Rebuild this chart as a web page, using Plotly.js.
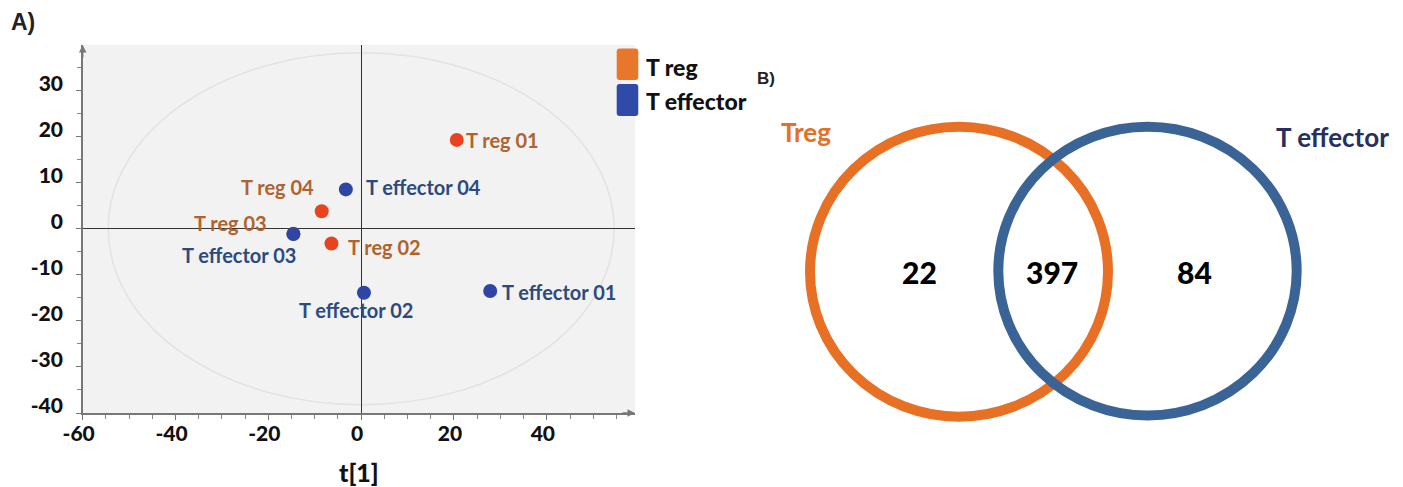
<!DOCTYPE html>
<html>
<head>
<meta charset="utf-8">
<script src="https://cdn.plot.ly/plotly-3.0.1.min.js"></script>
<style>
  html, body { margin: 0; padding: 0; background: #ffffff; }
  #chart { width: 1403px; height: 487px; }
</style>
</head>
<body>
<div id="chart"></div>
<script>
// ---------- Data ----------
// Panel A: score plot, t[1] vs t[2]
const tregNames = ['T reg 01', 'T reg 02', 'T reg 03', 'T reg 04'];
const tregT1 = [20.6, -6.4, -14.6, -8.5];
const tregT2 = [19.3, -3.2, -1.1, 3.8];

const teffNames = ['T effector 01', 'T effector 02', 'T effector 03', 'T effector 04'];
const teffT1 = [27.8, 0.6, -14.6, -3.3];
const teffT2 = [-13.5, -13.9, -1.15, 8.55];

// Hotelling ellipse half-axes (t[1], t[2])
const ellipseT1 = [-54.5, 54.5];
const ellipseT2 = [-38.2, 38.2];

const xRange = [-60, 59];
const yRange = [-40, 39.9];
const xTickVals = [-60, -40, -20, 0, 20, 40];
const xTickText = ['-60', '-40', '-20', '0', '20', '40'];
const yTickVals = [-40, -30, -20, -10, 0, 10, 20, 30];
const yTickText = ['-40', '-30', '-20', '-10', '0', '10', '20', '30'];

// Panel B: Venn counts
const vennSets = ['Treg', 'T effector'];
const vennCounts = [22, 397, 84];   // Treg only, shared, T effector only

// ---------- Styling / layout helpers ----------
const W = 1403, H = 487;
const px = x => x / W;
const py = y => 1 - y / H;
const FONT = 'Lato, "Open Sans", sans-serif';

const colTregDot = '#e8421f';
const colTeffDot = '#2e45a6';
const colTregTxt = '#b0622f';
const colTeffTxt = '#2c4a7e';

// label placement relative to each point: [xanchor, xshift, yshift]
const tregLabelPos = [['left', 8, 0], ['left', 16, -3], ['right', -25, 11], ['right', -7, 24]];
const teffLabelPos = [['left', 11, -1], ['center', -8, -17], ['right', 4, -21], ['left', 19, 2]];

const traces = [
  {
    type: 'scatter', mode: 'markers', name: 'T reg',
    x: tregT1, y: tregT2, text: tregNames,
    marker: { color: colTregDot, size: 14 },
    showlegend: false, cliponaxis: false, hoverinfo: 'text'
  },
  {
    type: 'scatter', mode: 'markers', name: 'T effector',
    x: teffT1, y: teffT2, text: teffNames,
    marker: { color: colTeffDot, size: 14 },
    showlegend: false, cliponaxis: false, hoverinfo: 'text'
  }
];

const annotations = [];
function addPointLabels(names, xs, ys, pos, color) {
  names.forEach((n, i) => {
    annotations.push({
      x: xs[i], y: ys[i], xref: 'x', yref: 'y', text: n, showarrow: false,
      xanchor: pos[i][0], yanchor: 'middle', xshift: pos[i][1], yshift: pos[i][2],
      font: { family: FONT, size: 20, color: color, weight: 'bold' }, borderpad: 0
    });
  });
}
addPointLabels(tregNames, tregT1, tregT2, tregLabelPos, colTregTxt);
addPointLabels(teffNames, teffT1, teffT2, teffLabelPos, colTeffTxt);

// axis arrows
annotations.push({ x: xRange[0], y: yRange[1], xref: 'x', yref: 'y', text: '', showarrow: true,
  ax: 0, ay: 14, arrowhead: 2, arrowsize: 1, arrowwidth: 1.5, arrowcolor: '#777' });
annotations.push({ x: xRange[1], y: yRange[0], xref: 'x', yref: 'y', text: '', showarrow: true,
  ax: -14, ay: 0, arrowhead: 2, arrowsize: 1, arrowwidth: 1.5, arrowcolor: '#777' });

// custom legend texts
annotations.push({ xref: 'paper', yref: 'paper', x: px(644), y: py(67), xanchor: 'left', yanchor: 'middle',
  text: 'T reg', showarrow: false, font: { family: FONT, size: 23, color: '#111', weight: 900 } });
annotations.push({ xref: 'paper', yref: 'paper', x: px(644), y: py(101), xanchor: 'left', yanchor: 'middle',
  text: 'T effector', showarrow: false, font: { family: FONT, size: 23, color: '#111', weight: 900 } });

// panel letters
annotations.push({ xref: 'paper', yref: 'paper', x: px(22.5), y: py(22.5), xanchor: 'center', yanchor: 'middle',
  text: 'A)', showarrow: false, font: { family: '"Liberation Sans", Arial, sans-serif', size: 23, color: '#222', weight: 'bold' } });
annotations.push({ xref: 'paper', yref: 'paper', x: px(766), y: py(78), xanchor: 'center', yanchor: 'middle',
  text: 'B)', showarrow: false, font: { family: '"Liberation Sans", Arial, sans-serif', size: 17, color: '#222', weight: 'bold' } });

// Venn labels and counts
const vennCountPos = [[919.5, 271.5], [1052, 271.5], [1194, 271.5]];
vennCounts.forEach((c, i) => {
  annotations.push({ xref: 'paper', yref: 'paper', x: px(vennCountPos[i][0]), y: py(vennCountPos[i][1]),
    xanchor: 'center', yanchor: 'middle', text: String(c), showarrow: false,
    font: { family: FONT, size: 30, color: '#000', weight: 900 } });
});
const vennLabelPos = [[805.5, 132], [1332, 137]];
const vennLabelCol = ['#e46f26', '#262f5f'];
vennSets.forEach((s, i) => {
  annotations.push({ xref: 'paper', yref: 'paper', x: px(vennLabelPos[i][0]), y: py(vennLabelPos[i][1]),
    xanchor: 'center', yanchor: 'middle', text: s, showarrow: false,
    font: { family: FONT, size: 26, color: vennLabelCol[i], weight: 'bold' } });
});

// rounded rectangle (pixel box -> paper path)
function roundRect(x0, y0, x1, y1, r) {
  const X = v => px(v).toFixed(5), Y = v => py(v).toFixed(5);
  return `M${X(x0 + r)},${Y(y0)} L${X(x1 - r)},${Y(y0)} Q${X(x1)},${Y(y0)} ${X(x1)},${Y(y0 + r)} ` +
         `L${X(x1)},${Y(y1 - r)} Q${X(x1)},${Y(y1)} ${X(x1 - r)},${Y(y1)} ` +
         `L${X(x0 + r)},${Y(y1)} Q${X(x0)},${Y(y1)} ${X(x0)},${Y(y1 - r)} ` +
         `L${X(x0)},${Y(y0 + r)} Q${X(x0)},${Y(y0)} ${X(x0 + r)},${Y(y0)} Z`;
}

const shapes = [
  // Hotelling T2 ellipse
  { type: 'circle', xref: 'x', yref: 'y', layer: 'below',
    x0: ellipseT1[0], x1: ellipseT1[1], y0: ellipseT2[0], y1: ellipseT2[1],
    line: { color: '#e2e2e2', width: 1.5 } },
  // legend swatches
  { type: 'path', xref: 'paper', yref: 'paper', path: roundRect(616.7, 48.5, 638.3, 80, 3),
    fillcolor: '#e8762b', line: { width: 0 } },
  { type: 'path', xref: 'paper', yref: 'paper', path: roundRect(616.7, 84, 638.3, 116, 3),
    fillcolor: '#2f4aa8', line: { width: 0 } },
  // Venn rings
  { type: 'circle', xref: 'paper', yref: 'paper', x0: px(810), x1: px(1108), y0: py(416.7), y1: py(126.7),
    line: { color: '#e87024', width: 10 } },
  { type: 'circle', xref: 'paper', yref: 'paper', x0: px(998.3), x1: px(1296.7), y0: py(415.5), y1: py(126.7),
    line: { color: '#3a6495', width: 10 } }
];

const tickFont = { family: FONT, size: 21, color: '#111', weight: 900 };

const layout = {
  width: W, height: H,
  margin: { l: 0, r: 0, t: 0, b: 0, pad: 0 },
  paper_bgcolor: '#ffffff',
  plot_bgcolor: '#f2f2f2',
  showlegend: false,
  xaxis: {
    domain: [px(82.7), px(635)], range: xRange, automargin: false,
    tickmode: 'array', tickvals: xTickVals, ticktext: xTickText,
    ticks: 'outside', ticklen: 5, tickwidth: 1, tickcolor: '#777',
    showline: true, linecolor: '#777', linewidth: 1.5, mirror: false,
    showgrid: false, zeroline: true, zerolinecolor: '#333', zerolinewidth: 1,
    tickfont: tickFont, ticklabelstandoff: -4, ticklabelshift: -4,
    minor: { dtick: 5, tick0: 0, ticks: 'outside', ticklen: 4, tickcolor: '#888', showgrid: false },
    title: { text: 't[1]', font: { family: FONT, size: 25, color: '#111', weight: 900 }, standoff: 24 },
    fixedrange: true
  },
  yaxis: {
    domain: [py(413), py(45)], range: yRange, automargin: false,
    tickmode: 'array', tickvals: yTickVals, ticktext: yTickText,
    ticks: 'outside', ticklen: 5, tickwidth: 1, tickcolor: '#777',
    showline: true, linecolor: '#777', linewidth: 1.5, mirror: false,
    showgrid: false, zeroline: true, zerolinecolor: '#333', zerolinewidth: 1,
    tickfont: tickFont, ticklabelstandoff: 9, ticklabelshift: -7,
    minor: { dtick: 5, tick0: 0, ticks: 'outside', ticklen: 4, tickcolor: '#888', showgrid: false },
    fixedrange: true
  },
  shapes: shapes,
  annotations: annotations
};

Plotly.newPlot('chart', traces, layout, { displayModeBar: false, staticPlot: true });
</script>
</body>
</html>
